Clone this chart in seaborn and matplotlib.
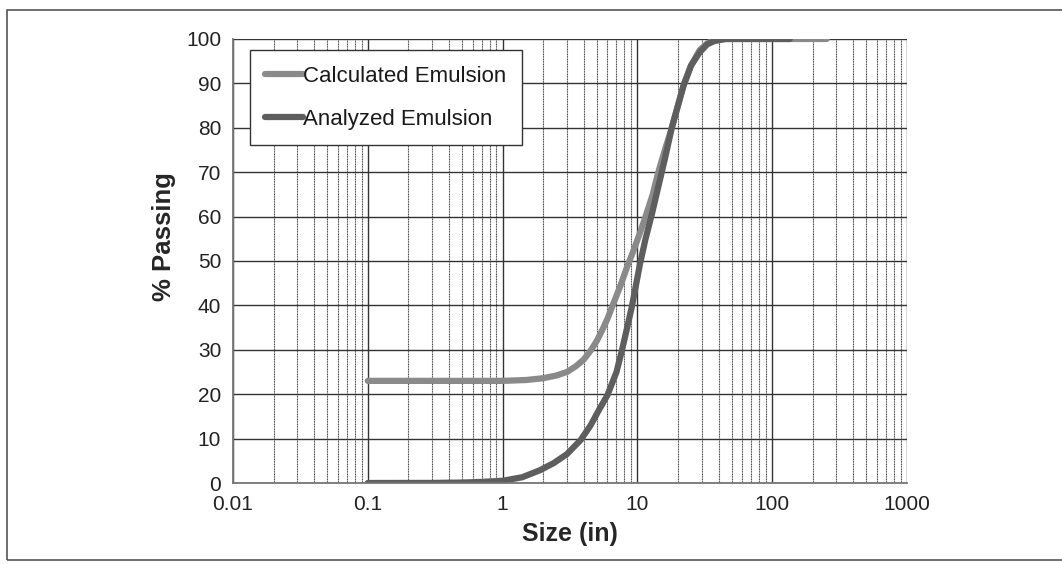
import pandas as pd
import matplotlib
matplotlib.use('Agg')
import matplotlib.pyplot as plt
import matplotlib.ticker as mticker
from matplotlib.patches import Rectangle
import seaborn as sns

# Calculated Emulsion (upper curve)
calc_size = [0.1, 0.3, 1, 1.5, 2, 2.5, 3, 3.5, 4, 4.5, 5, 5.5, 6, 6.5, 7.5, 8.4, 9.4, 10.5,
             11.5, 13, 14.3, 16, 18, 20, 22, 25, 29, 33, 37, 45, 80, 135, 254]
calc_pass = [23, 23, 23, 23.2, 23.6, 24.2, 25, 26.3, 27.8, 29.8, 32, 34.5, 37, 39.7, 44.5, 48.7, 52.5, 56.5,
             60, 65, 70, 75, 80, 85, 89.5, 94, 97.5, 99, 99.7, 100, 100, 100, 100]

# Analyzed Emulsion (lower curve)
anal_size = [0.1, 0.3, 0.5, 0.7, 1, 1.4, 1.9, 2.4, 3, 3.8, 4.5, 5.2, 6, 7, 7.7, 8.4, 9.1, 10.5,
             11.5, 12.8, 14.5, 16, 18, 20, 22, 25, 29, 33, 37, 45, 80, 135]
anal_pass = [0, 0.02, 0.1, 0.25, 0.5, 1.3, 2.9, 4.5, 6.5, 9.7, 13, 16.5, 19.8, 25, 30, 35, 39.7, 49.6,
             55, 60.5, 67.5, 73, 80, 85, 89.5, 94, 97, 98.8, 99.5, 100, 100, 100]

df = pd.concat([
    pd.DataFrame({'Size': calc_size, 'Passing': calc_pass, 'Series': 'Calculated Emulsion'}),
    pd.DataFrame({'Size': anal_size, 'Passing': anal_pass, 'Series': 'Analyzed Emulsion'}),
])

sns.set_style('white')
plt.rcParams['font.family'] = ['Liberation Sans', 'DejaVu Sans']

fig = plt.figure(figsize=(10.62, 5.64), dpi=100)
ax = fig.add_axes([0.2194, 0.1436, 0.6346, 0.7873])

sns.lineplot(data=df, x='Size', y='Passing', hue='Series',
             palette={'Calculated Emulsion': '#8a8a8a', 'Analyzed Emulsion': '#5e5e5e'},
             linewidth=4.5, ax=ax, sort=False, estimator=None)

ax.set_xscale('log')
ax.set_xlim(0.01, 1000)
ax.set_ylim(0, 100)
ax.set_yticks(range(0, 101, 10))
ax.xaxis.set_major_formatter(mticker.FuncFormatter(lambda v, p: '%g' % v))
ax.xaxis.set_minor_locator(mticker.LogLocator(base=10, subs=range(2, 10), numticks=20))
ax.xaxis.set_minor_formatter(mticker.NullFormatter())

ax.grid(True, which='major', axis='both', color='#333333', linewidth=1.0)
ax.grid(True, which='minor', axis='x', color='#4a4a4a', linewidth=0.8, linestyle=(0, (1, 0.5)))
ax.set_axisbelow(True)

for s in ['top', 'right']:
    ax.spines[s].set_visible(False)
for s in ['left', 'bottom']:
    ax.spines[s].set_color('#777777')
    ax.spines[s].set_linewidth(1.3)

ax.tick_params(axis='both', which='major', direction='out', length=5, width=1,
               color='#777777', labelsize=15, labelcolor='#222222')
ax.tick_params(axis='x', which='minor', length=0)

ax.set_xlabel('Size (in)', fontsize=18, fontweight='bold', labelpad=6)
ax.set_ylabel('% Passing', fontsize=18.5, fontweight='bold')
ax.yaxis.set_label_coords(-0.085, 0.555)

leg = ax.legend(loc='upper left', bbox_to_anchor=(0.025, 0.975), fontsize=16,
                frameon=True, fancybox=False, handlelength=1.7, handletextpad=0,
                borderpad=0.7, labelspacing=1.0, borderaxespad=0)
leg.get_frame().set_edgecolor('#333333')
leg.get_frame().set_linewidth(1.0)
leg.get_frame().set_facecolor('white')
leg.get_frame().set_alpha(1)
for t in leg.get_texts():
    t.set_color('#1a1a1a')

# scanned figure border
fig.patches.append(Rectangle((7 / 1062, 4 / 564), 1.2, 550 / 564, transform=fig.transFigure,
                             fill=False, edgecolor='#555555', linewidth=1.2))

fig.savefig('out.png', dpi=100)
